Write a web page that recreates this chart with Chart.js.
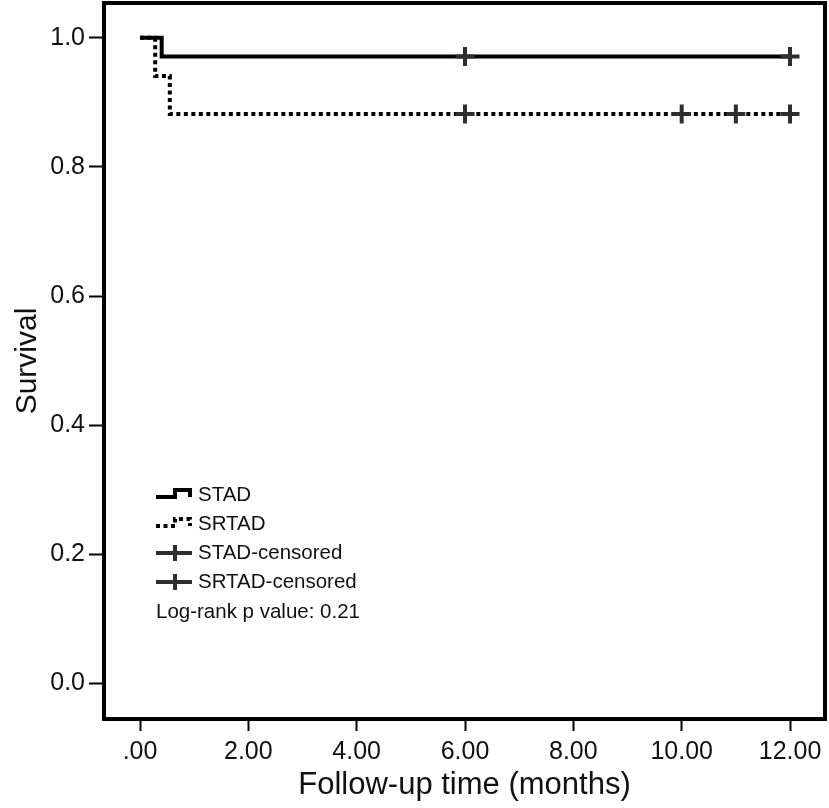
<!DOCTYPE html>
<html>
<head>
<meta charset="utf-8">
<script src="https://cdn.jsdelivr.net/npm/chart.js@4"></script>
<style>
  html, body { margin: 0; padding: 0; background: #ffffff; }
  #wrap { position: relative; width: 829px; height: 808px; }
</style>
</head>
<body>
<div id="wrap"><canvas id="kmChart"></canvas></div>
<script>
// Kaplan-Meier curves, values
const stadTimes = [0, 0.4];
const stadSurvival = [1.0, 0.971];
const srtadTimes = [0, 0.28, 0.55];
const srtadSurvival = [1.0, 0.941, 0.882];
const followUpEnd = 12;

// censored observations (months)
const stadCensorTimes = [6, 12];
const srtadCensorTimes = [6, 10, 11, 12];

const xTicks = [0, 2, 4, 6, 8, 10, 12];
const xTickLabels = [".00", "2.00", "4.00", "6.00", "8.00", "10.00", "12.00"];
const yTicks = [0, 0.2, 0.4, 0.6, 0.8, 1.0];
const yTickLabels = ["0.0", "0.2", "0.4", "0.6", "0.8", "1.0"];

const seriesLabels = ["STAD", "SRTAD", "STAD-censored", "SRTAD-censored"];
const logRankText = "Log-rank p value: 0.21";

const FONT = "'Liberation Sans', Arial, Helvetica, sans-serif";
const CENSOR_COLOR = "#2e2e2e";
const DOT_DASH = [4, 3.5];

// horizontal-then-drop corner points for a survival step curve
function stepPoints(times, surv, end) {
  const pts = [];
  times.forEach((t, i) => {
    if (i > 0) pts.push({ x: t, y: surv[i - 1] });
    pts.push({ x: t, y: surv[i] });
  });
  pts.push({ x: end, y: surv[surv.length - 1] });
  return pts;
}

function survivalAt(times, surv, t) {
  let s = surv[0];
  times.forEach((tt, i) => {
    if (tt <= t) s = surv[i];
  });
  return s;
}

function censorPoints(censorTimes, times, surv) {
  return censorTimes.map((t) => ({ x: t, y: survivalAt(times, surv, t) }));
}

// box around the plot area
const framePlugin = {
  id: "frame",
  afterDatasetsDraw(chart) {
    const { ctx, chartArea: a } = chart;
    ctx.save();
    ctx.strokeStyle = "#000";
    ctx.lineWidth = 4;
    ctx.strokeRect(a.left, a.top, a.right - a.left, a.bottom - a.top);
    ctx.restore();
  },
};

// legend drawn inside the plot like the SPSS output
const kmLegendPlugin = {
  id: "kmLegend",
  afterDraw(chart) {
    const ctx = chart.ctx;
    const x0 = 156;
    const x1 = 192;
    const textX = 198;
    const rows = [495, 524, 553, 582];
    ctx.save();
    ctx.lineCap = "butt";
    ctx.lineJoin = "miter";

    // STAD / SRTAD step icons
    [0, 1].forEach((i) => {
      const y = rows[i];
      ctx.beginPath();
      ctx.setLineDash(i === 1 ? DOT_DASH : []);
      ctx.strokeStyle = "#000";
      ctx.lineWidth = 4;
      ctx.moveTo(x0, y + 2);
      ctx.lineTo(x0 + 19, y + 2);
      ctx.lineTo(x0 + 19, y - 5);
      ctx.lineTo(x1 - 2, y - 5);
      ctx.lineTo(x1 - 2, y + 2);
      ctx.stroke();
    });
    ctx.setLineDash([]);

    // censored icons
    [2, 3].forEach((i) => {
      const y = rows[i];
      ctx.beginPath();
      ctx.strokeStyle = CENSOR_COLOR;
      ctx.lineWidth = 4;
      ctx.moveTo(x0, y);
      ctx.lineTo(x1, y);
      ctx.moveTo(x0 + 19, y - 8);
      ctx.lineTo(x0 + 19, y + 8);
      ctx.stroke();
    });

    ctx.fillStyle = "#111";
    ctx.font = "20.5px " + FONT;
    ctx.textBaseline = "middle";
    ctx.textAlign = "left";
    seriesLabels.forEach((label, i) => {
      ctx.fillText(label, textX, rows[i]);
    });
    ctx.fillText(logRankText, x0, 612);
    ctx.restore();
  },
};

const ctx = document.getElementById("kmChart");

new Chart(ctx.getContext("2d"), {
  type: "scatter",
  data: {
    datasets: [
      {
        label: seriesLabels[2],
        data: censorPoints(stadCensorTimes, stadTimes, stadSurvival),
        showLine: false,
        pointStyle: "cross",
        pointRadius: 9.5,
        pointBorderWidth: 4,
        pointBorderColor: CENSOR_COLOR,
        order: 0,
      },
      {
        label: seriesLabels[3],
        data: censorPoints(srtadCensorTimes, srtadTimes, srtadSurvival),
        showLine: false,
        pointStyle: "cross",
        pointRadius: 9.5,
        pointBorderWidth: 4,
        pointBorderColor: CENSOR_COLOR,
        order: 0,
      },
      {
        label: seriesLabels[1],
        data: stepPoints(srtadTimes, srtadSurvival, followUpEnd),
        showLine: true,
        borderColor: "#000",
        borderWidth: 4,
        borderDash: DOT_DASH,
        borderCapStyle: "butt",
        borderJoinStyle: "miter",
        pointRadius: 0,
        tension: 0,
        order: 1,
      },
      {
        label: seriesLabels[0],
        data: stepPoints(stadTimes, stadSurvival, followUpEnd),
        showLine: true,
        borderColor: "#000",
        borderWidth: 4,
        borderCapStyle: "butt",
        borderJoinStyle: "miter",
        pointRadius: 0,
        tension: 0,
        order: 2,
      },
    ],
  },
  options: {
    responsive: true,
    maintainAspectRatio: false,
    animation: false,
    layout: {
      autoPadding: false,
      padding: { top: 3, right: 4, left: 0, bottom: 0 },
    },
    plugins: {
      legend: { display: false },
      tooltip: { enabled: false },
    },
    scales: {
      x: {
        type: "linear",
        min: -0.665,
        max: 12.646,
        afterFit(scale) {
          scale.height = 89;
          scale.paddingLeft = 0;
          scale.paddingRight = 0;
        },
        afterBuildTicks(scale) {
          scale.ticks = xTicks.map((v) => ({ value: v }));
        },
        border: { display: false },
        grid: {
          drawOnChartArea: false,
          drawTicks: true,
          tickLength: 12,
          tickWidth: 2,
          tickColor: "#000",
        },
        ticks: {
          color: "#111",
          padding: 6,
          maxRotation: 0,
          font: { family: FONT, size: 25 },
          callback: (value) => xTickLabels[xTicks.indexOf(value)],
        },
        title: {
          display: true,
          text: "Follow-up time (months)",
          color: "#111",
          font: { family: FONT, size: 31 },
          padding: { top: 0, bottom: 4 },
        },
      },
      y: {
        type: "linear",
        min: -0.055,
        max: 1.054,
        afterFit(scale) {
          scale.width = 104;
          scale.paddingTop = 0;
          scale.paddingBottom = 0;
        },
        afterBuildTicks(scale) {
          scale.ticks = yTicks.map((v) => ({ value: v }));
        },
        border: { display: false },
        grid: {
          drawOnChartArea: false,
          drawTicks: true,
          tickLength: 15,
          tickWidth: 2,
          tickColor: "#000",
        },
        ticks: {
          color: "#111",
          padding: 4,
          font: { family: FONT, size: 25 },
          callback: (value) => yTickLabels[yTicks.indexOf(value)],
        },
        title: {
          display: true,
          text: "Survival",
          color: "#111",
          font: { family: FONT, size: 30 },
          padding: { top: 10, bottom: 0 },
        },
      },
    },
  },
  plugins: [framePlugin, kmLegendPlugin],
});
</script>
</body>
</html>
